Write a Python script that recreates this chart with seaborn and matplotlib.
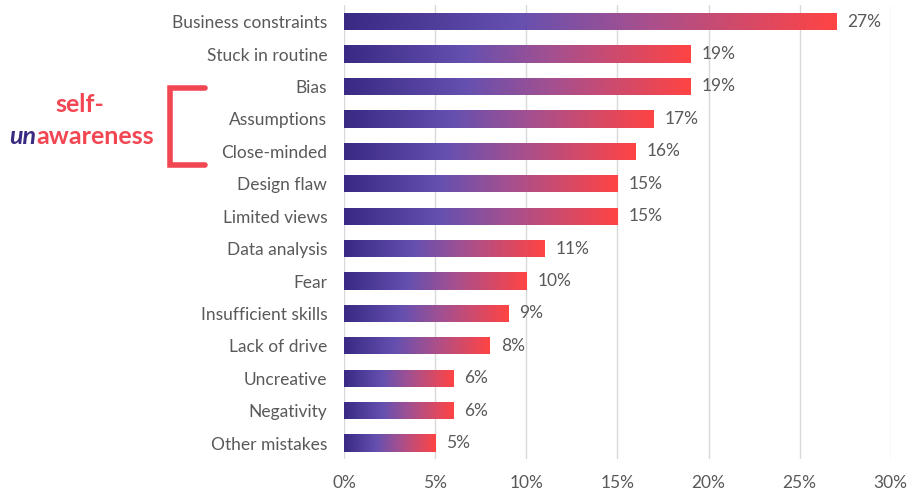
import numpy as np
import matplotlib
matplotlib.use('Agg')
import matplotlib.pyplot as plt
import seaborn as sns
from matplotlib.colors import LinearSegmentedColormap
from matplotlib.lines import Line2D

categories = ['Business constraints', 'Stuck in routine', 'Bias', 'Assumptions',
              'Close-minded', 'Design flaw', 'Limited views', 'Data analysis',
              'Fear', 'Insufficient skills', 'Lack of drive', 'Uncreative',
              'Negativity', 'Other mistakes']
shares = [27, 19, 19, 17, 16, 15, 15, 11, 10, 9, 8, 6, 6, 5]
xticks = [0, 5, 10, 15, 20, 25, 30]

sns.set_style('white')
plt.rcParams['font.family'] = ['Lato', 'DejaVu Sans']

grey = '#595959'
red = '#f24652'
purple = '#3b2a82'
grad = LinearSegmentedColormap.from_list(
    'bar', [(0.0, '#3a2a84'), (0.35, '#6550b0'), (0.6, '#a45090'), (1.0, '#ff4444')])

fig = plt.figure(figsize=(9.16, 4.96), dpi=100)
ax = fig.add_axes([0.3755, 0.074, 0.597, 0.915])

sns.barplot(x=shares, y=categories, orient='h', color=purple, width=0.53,
            linewidth=0, ax=ax)

# gradient fill, clipped to each bar
ramp = np.linspace(0, 1, 256).reshape(1, -1)
for patch in ax.patches:
    x0, y0 = patch.get_x(), patch.get_y()
    w, h = patch.get_width(), patch.get_height()
    patch.set_facecolor('none')
    im = ax.imshow(ramp, cmap=grad, aspect='auto', extent=[x0, x0 + w, y0 + h, y0],
                   zorder=3, interpolation='bicubic')
    im.set_clip_path(patch)

ax.set_xlim(0, 30)
ax.set_ylim(len(categories) - 0.5, -0.5)
ax.set_xticks(xticks)
ax.set_xticklabels([f'{t}%' for t in xticks])
ax.xaxis.grid(True, color='#d9d9d9', linewidth=1)
ax.set_axisbelow(True)
for s in ax.spines.values():
    s.set_visible(False)
ax.tick_params(axis='x', length=0, pad=11, labelsize=12.5, labelcolor=grey)
ax.tick_params(axis='y', length=0, pad=12, labelsize=12.5, labelcolor=grey)
ax.set_xlabel('')
ax.set_ylabel('')

for i, v in enumerate(shares):
    ax.annotate(f'{v}%', (v, i), xytext=(8, 0), textcoords='offset points',
                va='center', ha='left', fontsize=12.5, color=grey)

# self-unawareness annotation
W, H = 916, 496
fig.text(80 / W, 1 - 104 / H, 'self-', ha='center', va='center',
         fontsize=18, fontweight='bold', color=red)
un = fig.text(9 / W, 1 - 136 / H, 'un', ha='left', va='center',
              fontsize=18, fontweight='bold', fontstyle='italic', color=purple)
fig.canvas.draw()
bb = un.get_window_extent()
fig.text(bb.x1 / W, 1 - 136 / H, 'awareness', ha='left', va='center',
         fontsize=18, fontweight='bold', color=red)

bx = [205 / W, 170 / W, 170 / W, 205 / W]
by = [1 - 88 / H, 1 - 88 / H, 1 - 165 / H, 1 - 165 / H]
fig.add_artist(Line2D(bx, by, transform=fig.transFigure, color=red,
                      linewidth=4, solid_joinstyle='miter'))

fig.savefig('out.png', dpi=100)
